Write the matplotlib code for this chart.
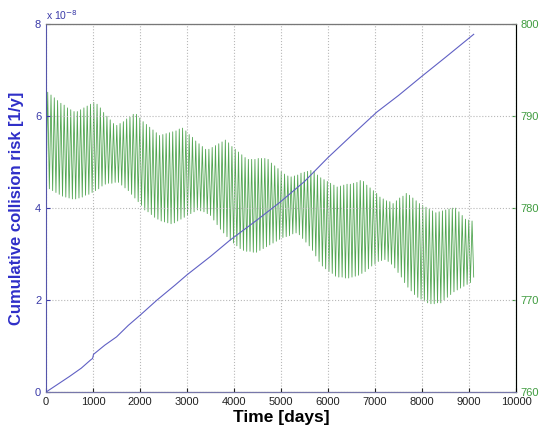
import numpy as np
import matplotlib
matplotlib.use('Agg')
import matplotlib.pyplot as plt

plt.rcParams['font.family'] = ['Liberation Sans', 'DejaVu Sans']

# cumulative collision risk (x 1e-8)
risk_days = [0, 250, 500, 750, 950, 990, 1010, 1250, 1500, 1750, 2000, 2360, 2750,
             3000, 3500, 3910, 4500, 4980, 5500, 6000, 6500, 7040, 7500, 8000, 8500, 9100]
risk_vals = [0, 0.17, 0.34, 0.52, 0.70, 0.73, 0.82, 1.02, 1.20, 1.45, 1.67, 2.0, 2.33,
             2.55, 2.95, 3.30, 3.75, 4.13, 4.58, 5.10, 5.58, 6.09, 6.45, 6.87, 7.28, 7.78]

# green curve: alternating troughs / peaks every 35 days
step_days = 35
troughs = [782.3, 782.1, 781.9, 781.7, 781.5, 781.3, 781.2, 781.1, 781.0, 781.0,
           781.1, 781.2, 781.4, 781.5, 781.7, 781.9, 782.1, 782.4, 782.6, 782.7,
           782.7, 782.8, 782.8, 782.5, 782.2, 781.9, 781.5, 781.1, 780.7, 780.3,
           779.8, 779.6, 779.3, 779.0, 778.8, 778.6, 778.5, 778.4, 778.3, 778.4,
           778.6, 778.8, 779.0, 779.2, 779.4, 779.6, 779.8, 779.7, 779.6, 779.4,
           779.2, 778.7, 778.2, 777.7, 777.3, 776.9, 776.5, 776.2, 775.9, 775.6,
           775.4, 775.3, 775.3, 775.2, 775.2, 775.4, 775.6, 775.8, 776.0, 776.2,
           776.4, 776.6, 776.8, 776.9, 777.0, 777.2, 777.3, 777.1, 776.7, 776.3,
           775.9, 775.4, 774.8, 774.2, 773.7, 773.4, 773.1, 772.9, 772.6, 772.5,
           772.5, 772.4, 772.4, 772.5, 772.6, 772.7, 772.9, 773.1, 773.4, 773.7,
           773.9, 774.2, 774.3, 774.4, 774.2, 773.9, 773.5, 773.0, 772.5, 771.9,
           771.4, 771.0, 770.6, 770.3, 770.1, 769.9, 769.7, 769.6, 769.6, 769.7,
           769.7, 770.0, 770.3, 770.6, 770.9, 771.1, 771.3, 771.5, 771.7, 771.9,
           772.5]
peaks = [792.6, 792.3, 792.0, 791.7, 791.4, 791.2, 790.9, 790.7, 790.5, 790.5,
         790.7, 790.9, 791.1, 791.3, 791.5, 791.3, 790.9, 790.4, 790.0, 789.6,
         789.2, 789.0, 789.2, 789.4, 789.7, 789.9, 790.2, 790.2, 789.8, 789.4,
         789.1, 788.8, 788.5, 788.2, 787.9, 788.0, 788.1, 788.2, 788.3, 788.4,
         788.6, 788.7, 788.4, 788.0, 787.7, 787.3, 787.0, 786.7, 786.4, 786.4,
         786.6, 786.8, 787.0, 787.2, 787.4, 787.1, 786.7, 786.4, 786.1, 785.8,
         785.5, 785.3, 785.3, 785.3, 785.4, 785.4, 785.4, 785.3, 784.9, 784.6,
         784.3, 784.0, 783.7, 783.5, 783.4, 783.5, 783.6, 783.8, 783.9, 784.0,
         784.1, 784.0, 783.6, 783.3, 783.1, 782.9, 782.7, 782.5, 782.3, 782.4,
         782.5, 782.6, 782.6, 782.7, 782.8, 783.0, 782.9, 782.5, 782.2, 781.9,
         781.6, 781.2, 781.0, 780.8, 780.7, 780.5, 780.8, 781.1, 781.3, 781.6,
         781.4, 781.1, 780.8, 780.5, 780.3, 780.1, 779.9, 779.7, 779.5, 779.6,
         779.7, 779.8, 779.9, 780.0, 780.0, 779.6, 779.2, 778.8, 778.7, 778.6]


def main():
    sma = []
    for i in range(len(troughs)):
        sma.append(troughs[i])
        if i < len(peaks):
            sma.append(peaks[i])
    days = np.arange(len(sma)) * step_days

    blue = '#2f2fc8'
    green = '#3f9c3f'

    fig = plt.figure(figsize=(5.42, 4.40), dpi=100)
    ax = fig.add_axes([0.085, 0.109, 0.867, 0.836])
    ax2 = ax.twinx()

    ax2.plot(days, sma, color=green, lw=0.6, alpha=0.9)
    ax.plot(risk_days, np.array(risk_vals) * 1e-8, color='#6060c4', lw=0.8)
    ax.set_zorder(ax2.get_zorder() + 1)
    ax.patch.set_visible(False)

    ax.set_xlim(0, 10000)
    ax.set_ylim(0, 8e-8)
    ax.set_yticks(np.arange(0, 9e-8, 2e-8))
    ax.set_yticklabels(['0', '2', '4', '6', '8'])
    ax.set_xticks(np.arange(0, 10001, 1000))
    ax2.set_ylim(760, 800)
    ax2.set_yticks(np.arange(760, 801, 10))

    ax.grid(True, linestyle=':', color='#b8b8b8', lw=0.8)
    ax.tick_params(axis='x', labelsize=8, colors='#222222', direction='in', length=3)
    ax.tick_params(axis='y', labelsize=8, colors='#3a3aa8', direction='in', length=3)
    ax2.tick_params(axis='y', labelsize=8, colors=green, direction='in', length=3)
    ax.spines['left'].set_color('#5555aa')
    ax.spines['bottom'].set_color('#7777aa')
    ax.spines['top'].set_color('#777777')
    ax2.spines['right'].set_color(green)
    ax2.spines['left'].set_visible(False)

    ax.set_xlabel('Time [days]', fontsize=12.5, fontweight='bold', labelpad=2)
    ax.set_ylabel('Cumulative collision risk [1/y]', fontsize=12,
                  fontweight='bold', color=blue, labelpad=8)
    ax.text(0.0, 1.005, r'x 10$^{-8}$', transform=ax.transAxes, fontsize=7.5,
            color='#3a3aa8', ha='left', va='bottom')

    fig.savefig('out.png', dpi=100)


if __name__ == '__main__':
    main()
